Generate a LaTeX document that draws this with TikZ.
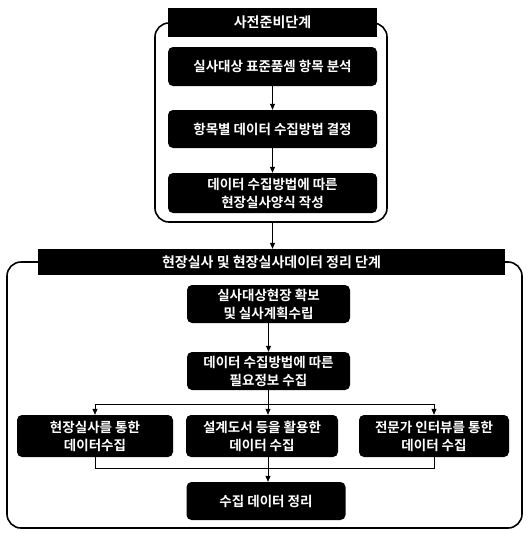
\documentclass[tikz,border=0pt]{standalone}
\usepackage{fontspec}
\newfontfamily\kr{Noto Sans CJK KR Bold}
\usetikzlibrary{arrows.meta}
\begin{document}
\begin{tikzpicture}[x=1pt,y=-1pt,
  box/.style={fill=black,text=white,rounded corners=5pt,inner sep=0pt,align=center,
    font=\kr\fontsize{13.5}{18}\selectfont},
  bar/.style={fill=black,text=white,inner sep=0pt,font=\kr\fontsize{14}{18}\selectfont},
  frame/.style={draw=black,line width=1.6pt,rounded corners=14pt},
  conn/.style={draw=black,line width=0.8pt,-{Triangle[length=6pt,width=5pt]}},
  wire/.style={draw=black,line width=0.8pt}]
\useasboundingbox (0,0) rectangle (527,533);

% frames
\draw[frame] (155,23) rectangle (387,222);
\draw[frame] (7,262) rectangle (522,528);

% top stage
\node[bar, minimum width=209pt, minimum height=29pt] (tb) at (272.5,22.5) {사전준비단계};
\node[box, minimum width=209pt, minimum height=39pt] (b1) at (272.5,66.5) {실사대상 표준품셈 항목 분석};
\node[box, minimum width=209pt, minimum height=38pt] (b2) at (272.5,129) {항목별 데이터 수집방법 결정};
\node[box, minimum width=209pt, minimum height=40pt] (b3) at (272.5,193) {데이터 수집방법에 따른\\현장실사양식 작성};

% second stage
\node[bar, minimum width=467pt, minimum height=26pt] (tb2) at (271.5,262) {현장실사 및 현장실사데이터 정리 단계};
\node[box, minimum width=163pt, minimum height=38pt] (b4) at (268.5,304) {실사대상현장 확보\\및 실사계획수립};
\node[box, minimum width=163pt, minimum height=38pt] (b5) at (268.5,371) {데이터 수집방법에 따른\\필요정보 수집};
\node[box, minimum width=156pt, minimum height=42pt] (b6) at (95,436) {현장실사를 통한\\데이터수집};
\node[box, minimum width=152pt, minimum height=42pt] (b7) at (262,436) {설계도서 등을 활용한\\데이터 수집};
\node[box, minimum width=150pt, minimum height=42pt] (b8) at (434,436) {전문가 인터뷰를 통한\\데이터 수집};
\node[box, minimum width=159pt, minimum height=38pt] (b9) at (266,501) {수집 데이터 정리};

% connectors
\draw[conn] (b1.south) -- (b2.north);
\draw[conn] (b2.south) -- (b3.north);
\coordinate (f1) at (272.5,222);
\draw[conn] (f1) -- (f1 |- tb2.north);
\draw[conn] (b4.south) -- (b5.north);

\coordinate (br) at (268,404);
\draw[wire] (b5.south -| br) -- (br);
\draw[wire] (br -| b6.north) -- (br -| b8.north);
\draw[conn] (br -| b6.north) -- (b6.north);
\draw[conn] (br) -- (b7.north -| br);
\draw[conn] (br -| b8.north) -- (b8.north);

\coordinate (mg) at (268,468);
\draw[wire] (b6.south) -- (b6.south |- mg) -- (mg -| b8.south) -- (b8.south);
\draw[conn] (b7.south -| mg) -- (b9.north -| mg);
\end{tikzpicture}
\end{document}
